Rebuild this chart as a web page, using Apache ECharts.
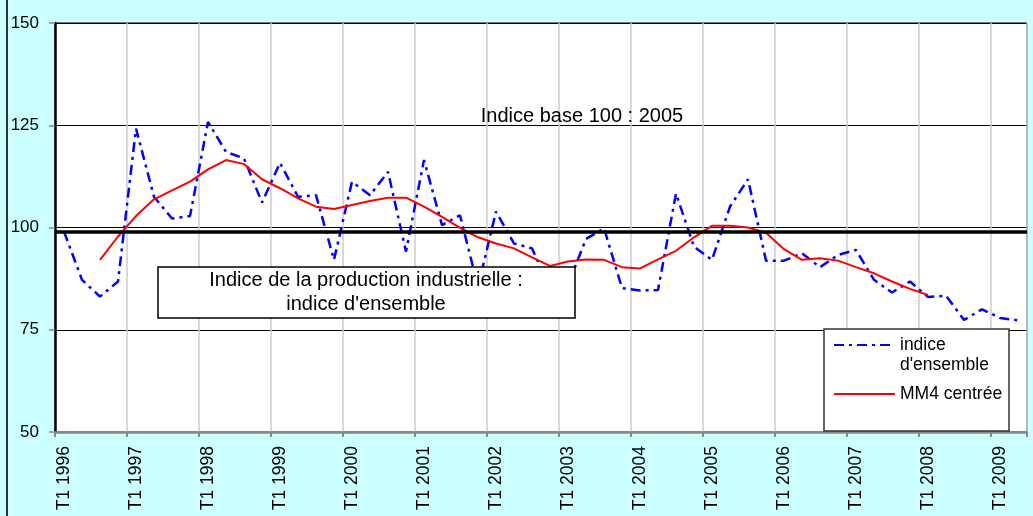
<!DOCTYPE html>
<html><head><meta charset="utf-8">
<script src="https://cdn.jsdelivr.net/npm/echarts@6/dist/echarts.min.js"></script>
<style>html,body{margin:0;padding:0;background:#CCFFFF}#c{width:1033px;height:516px}</style>
</head><body><div id="c"></div>
<script>
// Quarters T1 1996 .. T2 2009
const years = [1996,1997,1998,1999,2000,2001,2002,2003,2004,2005,2006,2007,2008,2009];
const quarterNames = ['T1','T2','T3','T4'];
const categories = [];
years.forEach(y => quarterNames.forEach(q => categories.push(q + ' ' + y)));
categories.length = 54;

const indiceEnsemble = [
  99.0, 87.2, 83.1, 86.8,
  124.2, 107.5, 102.2, 102.8,
  125.8, 118.5, 116.9, 106.1,
  115.8, 107.5, 107.9, 92.1,
  111.2, 107.9, 113.6, 94.1,
  116.5, 100.6, 103.0, 85.5,
  103.9, 96.1, 94.9, 85.0,
  86.0, 97.2, 99.8, 85.2,
  84.6, 84.7, 108.3, 95.3,
  92.1, 105.1, 111.8, 91.9,
  91.9, 93.7, 90.3, 93.3,
  94.5, 87.2, 84.1, 86.8,
  83.0, 83.3, 77.4, 80.0,
  77.9, 77.3
];

const mm4Centree = [
  null, null, 92.1, 97.8,
  102.8, 106.9, 109.1, 111.2,
  114.2, 116.5, 115.5, 111.8,
  109.6, 107.1, 105.1, 104.5,
  105.5, 106.5, 107.3, 107.3,
  105.1, 102.6, 99.9, 97.6,
  96.1, 94.9, 92.7, 90.6,
  91.7, 92.2, 92.1, 90.3,
  90.0, 92.2, 94.3, 97.6,
  100.4, 100.4, 100.0, 98.7,
  94.7, 92.1, 92.5, 91.9,
  90.3, 88.8, 86.8, 85.0,
  83.5, null, null, null,
  null, null
];

const baseLine = 99;
const yMin = 50, yMax = 150, yStep = 25;

const FONT = "'Liberation Sans', Arial, sans-serif";
const chart = echarts.init(document.getElementById('c'), null, {renderer: 'canvas'});
chart.setOption({
  backgroundColor: '#CCFFFF',
  animation: false,
  textStyle: {fontFamily: FONT},
  grid: {left: 55, right: 6, top: 23, bottom: 84, show: true, backgroundColor: '#FFFFFF', borderColor: '#000', borderWidth: 1},
  xAxis: {
    type: 'category',
    data: categories,
    boundaryGap: true,
    axisLine: {lineStyle: {color: '#888888', width: 2.5}},
    axisTick: {show: true, interval: 3, length: 5, lineStyle: {color: '#888888', width: 2}},
    axisLabel: {interval: 3, rotate: 90, margin: 14, fontSize: 17.5, color: '#000', fontFamily: FONT},
    splitLine: {show: true, interval: 3, lineStyle: {color: '#CCCCCC', width: 1.5}}
  },
  yAxis: {
    type: 'value', min: yMin, max: yMax, interval: yStep,
    axisLine: {show: true, lineStyle: {color: '#000', width: 2.5}},
    axisTick: {show: true, length: 6, lineStyle: {color: '#888888', width: 1.5}},
    axisLabel: {fontSize: 17, color: '#000', margin: 16, fontFamily: FONT},
    splitLine: {show: true, lineStyle: {color: '#000', width: 1}}
  },
  legend: {
    orient: 'vertical', left: 833, top: 315, padding: 0, itemGap: 9,
    itemWidth: 61, itemHeight: 14, z: 20,
    itemStyle: {opacity: 0, color: 'rgba(0,0,0,0)', borderWidth: 0},
    textStyle: {fontSize: 17.5, color: '#000', fontFamily: FONT, lineHeight: 20},
    formatter: name => name === "indice d'ensemble" ? " \nindice\nd'ensemble" : name,
    data: [
      {name: "indice d'ensemble"},
      {name: 'MM4 centrée'}
    ]
  },
  graphic: [
    {type: 'line', shape: {x1: 7, y1: 0, x2: 7, y2: 516}, style: {stroke: '#333', lineWidth: 2}, z: 1},
    {type: 'rect', shape: {x: 824, y: 329, width: 185, height: 102}, style: {fill: '#fff', stroke: '#333', lineWidth: 1.5}, z: 15},
    {type: 'rect', shape: {x: 158, y: 267, width: 417, height: 51}, style: {fill: '#fff', stroke: '#000', lineWidth: 1.5}, z: 15},
    {type: 'text', x: 366, y: 292, z: 16, style: {text: "Indice de la production industrielle :\nindice d'ensemble", font: '20px ' + FONT, fill: '#000', align: 'center', verticalAlign: 'middle', lineHeight: 24}},
    {type: 'text', x: 582, y: 116, z: 16, style: {text: 'Indice base 100 : 2005', font: '20px ' + FONT, fill: '#000', align: 'center', verticalAlign: 'middle'}}
  ],
  series: [
    {
      name: "indice d'ensemble", type: 'line', data: indiceEnsemble,
      symbol: 'none', z: 3,
      lineStyle: {color: '#0000FF', width: 2.5, type: [10, 5, 3, 5]},
      itemStyle: {color: '#0000FF'},
      markLine: {
        silent: true, symbol: ['none', 'none'], label: {show: false},
        lineStyle: {color: '#000', width: 3.5, type: 'solid'},
        data: [{yAxis: baseLine}]
      }
    },
    {
      name: 'MM4 centrée', type: 'line', data: mm4Centree,
      symbol: 'none', z: 4,
      lineStyle: {color: '#FF0000', width: 2, type: 'solid'},
      itemStyle: {color: '#FF0000'}
    }
  ]
});
</script>
</body></html>
